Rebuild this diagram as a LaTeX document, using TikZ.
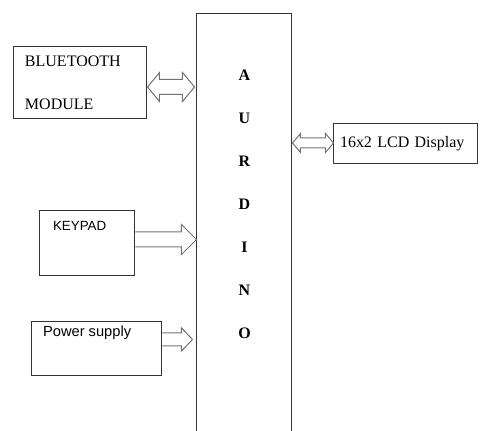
\documentclass[tikz,border=0pt]{standalone}
\usepackage{fontspec}
\setmainfont{Liberation Serif}
\newfontfamily\arialfont{Liberation Sans}
\usepackage{tikz}
\usetikzlibrary{positioning, calc}

\begin{document}
\begin{tikzpicture}[
  x=0.75pt, y=-0.75pt,
  box/.style={rectangle, draw=black!80, line width=0.75pt, align=left, font=\fontsize{12}{32.25}\selectfont},
  sanstxt/.style={inner sep=0pt, font=\arialfont\fontsize{10}{12}\selectfont},
  hollow/.style={draw=black!55, line width=0.75pt, line join=miter}
]
\clip (0,0) rectangle (480,431);

\node[box, minimum width=99.75pt, minimum height=54pt, inner xsep=8.25pt, text width=83.25pt] (bt) at (80.5,83) {BLUETOOTH\\MODULE};
\node[box, minimum width=71.25pt, minimum height=48.75pt] (key) at (87.5,243.5) {};
\node[box, minimum width=97.5pt, minimum height=40.5pt] (pwr) at (97,349) {};
\node[box, minimum width=71.25pt, minimum height=323.25pt] (ard) at (244.5,229.5) {};
\node[box, minimum width=108pt, minimum height=30pt, inner xsep=4.5pt, text width=99pt] (lcd) at (406,144) {16x2 LCD Display};

\node[sanstxt, below right=8.25pt and 10pt of key.north west] (keytxt) {KEYPAD};
\node[sanstxt, font=\arialfont\fontsize{11}{13}\selectfont, below right=3pt and 8.5pt of pwr.north west] (pwrtxt) {Power supply};
\node[inner sep=0pt, align=center, font=\bfseries\fontsize{12}{32.25}\selectfont, below=42pt of ard.north] (ardtxt) {A\\U\\R\\D\\I\\N\\O};

% connection points
\coordinate (btR) at ($(bt.east)+(0,4)$);
\coordinate (ardL1) at ($(ard.west |- btR)+(-2,0)$);
\coordinate (lcdL) at ($(lcd.west)+(0,-1)$);
\coordinate (ardR) at (ard.east |- lcdL);
\coordinate (keyR) at ($(key.east)+(0,-4)$);
\coordinate (ardL2) at (ard.west |- keyR);
\coordinate (pwrR) at ($(pwr.east)+(0,-9.5)$);
\coordinate (ardL3) at ($(ard.west |- pwrR)+(-4,0)$);

% bluetooth <-> arduino
\draw[hollow] (btR) -- ++(12,-14.5) -- ++(0,7) -- ($(ardL1)+(-12,-7.5)$) -- ++(0,-7) -- (ardL1) -- ++(-12,14.5) -- ++(0,-7) -- ($(btR)+(12,7.5)$) -- ++(0,7) -- cycle;
% arduino <-> lcd
\draw[hollow] (ardR) -- ++(8,-9.5) -- ++(0,4.5) -- ($(lcdL)+(-8,-5)$) -- ++(0,-4.5) -- (lcdL) -- ++(-8,9.5) -- ++(0,-4.5) -- ($(ardR)+(8,5)$) -- ++(0,4.5) -- cycle;
% keypad -> arduino
\draw[hollow] ($(keyR)+(0,-7.5)$) -- ($(ardL2)+(-15,-7.5)$) -- ++(0,-7.5) -- (ardL2) -- ++(-15,15) -- ++(0,-7.5) -- ($(keyR)+(0,7.5)$);
% power supply -> arduino
\draw[hollow] ($(pwrR)+(0,-6.5)$) -- ($(ardL3)+(-11,-6.5)$) -- ++(0,-5) -- (ardL3) -- ++(-11,11.5) -- ++(0,-5) -- ($(pwrR)+(0,6.5)$);
\end{tikzpicture}
\end{document}
